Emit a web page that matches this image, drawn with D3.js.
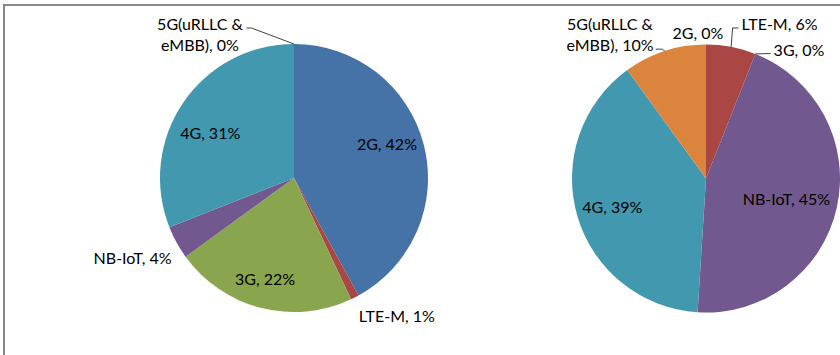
<!DOCTYPE html>
<html>
<head>
<meta charset="utf-8">
<script src="https://cdn.jsdelivr.net/npm/d3@7"></script>
<style>
  html, body { margin: 0; padding: 0; background: #fff; overflow: hidden; }
  svg { display: block; }
  text { font-family: Lato, "Open Sans", sans-serif; font-size: 16px; fill: #000; }
</style>
</head>
<body>
<svg id="chart" width="840" height="355"></svg>
<script>
// ---- data ----
const categories = ["2G", "LTE-M", "3G", "NB-IoT", "4G", "5G(uRLLC & eMBB)"];
const leftValues = [42, 1, 22, 4, 31, 0];
const rightValues = [0, 6, 0, 45, 39, 10];
const colors = ["#4572A7", "#AA4643", "#89A54E", "#71588F", "#4198AF", "#DB843D"];

// ---- layout (positions / styles, not data) ----
const W = 840, H = 355, R = 134;
const pies = [
  { values: leftValues,  cx: 294, cy: 178 },
  { values: rightValues, cx: 706, cy: 178.5 }
];
// label placement per pie & category: mode in/out, nudge from reference point
// 'leader': how a connector is drawn (null = none)
const labelLayout = [
  [
    { mode: "in",  dx: -0.5, dy: -9.5 },
    { mode: "out", dx: 42,   dy: 19 },
    { mode: "in",  dx: -5,   dy: 7.5 },
    { mode: "out", dx: -44,  dy: 15.5 },
    { mode: "in",  dx: -4,   dy: 10 },
    { mode: "out", dx: -94,  dy: -9.5, lines: ["5G(uRLLC &", "eMBB), {v}%"], leader: "rightTop" }
  ],
  [
    { mode: "out", dx: -8,   dy: -11.5 },
    { mode: "out", dx: 48.4, dy: -22.9, leader: "leftElbow" },
    { mode: "out", dx: 43.7, dy: -3.9,  leader: "leftStraight" },
    { mode: "in",  dx: -13.7, dy: -0.5 },
    { mode: "in",  dx: -1,   dy: 2 },
    { mode: "out", dx: -54.6, dy: -16.4, lines: ["5G(uRLLC &", "eMBB), {v}%"], leader: "rightBottom" }
  ]
];

const svg = d3.select("#chart");
svg.append("rect").attr("x", 0).attr("y", 0).attr("width", W).attr("height", H).attr("fill", "#fff");

const pieGen = d3.pie().sort(null).value(d => d).startAngle(0).endAngle(2 * Math.PI);
const arcGen = d3.arc().innerRadius(0).outerRadius(R);
const color = d3.scaleOrdinal().domain(categories).range(colors);
const lineH = 21;

pies.forEach((p, pi) => {
  const g = svg.append("g").attr("transform", `translate(${p.cx},${p.cy})`);
  const arcs = pieGen(p.values);
  g.selectAll("path.slice").data(arcs).enter().append("path")
    .attr("class", "slice")
    .attr("d", arcGen)
    .attr("fill", (d, i) => color(categories[i]));

  const lg = g.append("g");
  arcs.forEach((a, i) => {
    const L = labelLayout[pi][i];
    const mid = (a.startAngle + a.endAngle) / 2;
    const r = L.mode === "in" ? 0.72 * R : R;
    const edge = [R * Math.sin(mid), -R * Math.cos(mid)];
    const ref = [r * Math.sin(mid), -r * Math.cos(mid)];
    const x = ref[0] + L.dx, y = ref[1] + L.dy;
    const v = p.values[i];
    const lines = L.lines ? L.lines.map(s => s.replace("{v}", v)) : [`${categories[i]}, ${v}%`];
    const t = lg.append("text").attr("text-anchor", "middle");
    lines.forEach((s, k) => {
      t.append("tspan")
        .attr("x", x)
        .attr("y", y + (k - (lines.length - 1) / 2) * lineH)
        .attr("dy", "0.35em")
        .text(s);
    });
    if (L.leader) {
      const bb = t.node().getBBox();
      const firstY = y - (lines.length - 1) / 2 * lineH;
      const lastY = y + (lines.length - 1) / 2 * lineH;
      let pts;
      if (L.leader === "rightTop") {
        const ey = firstY + 4;
        pts = [[bb.x + bb.width + 3, ey], [bb.x + bb.width + 8, ey], edge];
      } else if (L.leader === "rightBottom") {
        const ey = lastY + 4;
        pts = [[bb.x + bb.width + 2, ey], [bb.x + bb.width + 9, ey], edge];
      } else if (L.leader === "leftElbow") {
        const ey = y + 4;
        pts = [[bb.x - 3, ey], [edge[0] + 1.5, ey], edge];
      } else {
        const ey = y + 3.5;
        pts = [[bb.x - 3, ey], edge];
      }
      lg.insert("path", "text")
        .attr("d", d3.line()(pts))
        .attr("fill", "none")
        .attr("stroke", "#404040")
        .attr("stroke-width", 1);
    }
  });
});

// chart area border (right/bottom edges fall outside the picture)
svg.append("rect")
  .attr("x", 4).attr("y", 5)
  .attr("width", W + 20).attr("height", H + 20)
  .attr("fill", "none")
  .attr("stroke", "#878787")
  .attr("stroke-width", 2);
</script>
</body>
</html>
